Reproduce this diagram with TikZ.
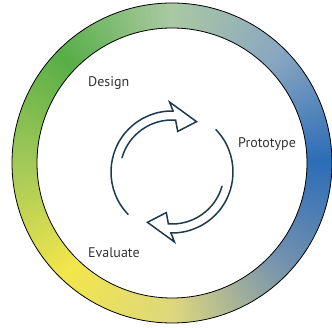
\documentclass[tikz,border=0pt]{standalone}
\usepackage{fontspec}
\setmainfont{PT Sans}
\definecolor{ink}{HTML}{1D3A50}
\definecolor{labelink}{HTML}{333333}
\definecolor{ringblue}{HTML}{2C6DB7}
\definecolor{ringsteel}{HTML}{8AA7C2}
\definecolor{ringsage}{HTML}{AAC9A2}
\definecolor{ringgreen}{HTML}{58AE47}
\definecolor{ringlime}{HTML}{A3C958}
\definecolor{ringyellow}{HTML}{F3E64B}
\definecolor{ringsand}{HTML}{DDD77E}
\definecolor{ringslate}{HTML}{7894AE}
\tikzset{ringedge/.style={draw=black,line width=0.8pt}, cyclearrow/.style={draw=ink,line width=1.5pt,line join=miter,line cap=round}, lbl/.style={font=\fontsize{14}{16}\selectfont,text=labelink,inner sep=0pt}}

\begin{document}
\begin{tikzpicture}[x=1pt,y=1pt]
\useasboundingbox (0,0) rectangle (332,328);
\coordinate (ring) at (172,165);\coordinate (cyc) at (172,156);
% colour ring from thin wedges
\begin{scope}[shift={(ring)}]
\foreach \a/\ca/\cb in {0/ringblue/ringsteel,45/ringsteel/ringsage,90/ringsage/ringgreen,135/ringgreen/ringlime,180/ringlime/ringyellow,225/ringyellow/ringsand,270/ringsand/ringslate,315/ringslate/ringblue}
  \foreach \t in {0,...,44}{
    \pgfmathtruncatemacro{\mixpct}{100*\t/45}
    \colorlet{wedgecol}{\cb!\mixpct!\ca}
    \fill[wedgecol] (\a+\t:135) arc[start angle=\a+\t,end angle=\a+\t+1.4,radius=135] -- (\a+\t+1.4:160) arc[start angle=\a+\t+1.4,end angle=\a+\t,radius=160] -- cycle;
  }
\draw[ringedge] (0,0) circle[radius=160] (0,0) circle[radius=135];
\end{scope}
% the two cycle arrows
\begin{scope}[shift={(cyc)}]
\foreach \r in {0,180}
  \draw[cyclearrow,rotate=\r] (224:61) arc[start angle=224,end angle=89,radius=61] -- (92:70) -- (64:56) -- (82:41) -- (86:52) arc[start angle=86,end angle=164,radius=52];
\end{scope}
\node[lbl,anchor=base west](design) at (88,241){Design};
\node[lbl,anchor=base west](prototype) at (238,180){Prototype};
\node[lbl,anchor=base west](evaluate) at (88,70){Evaluate};
\end{tikzpicture}
\end{document}
